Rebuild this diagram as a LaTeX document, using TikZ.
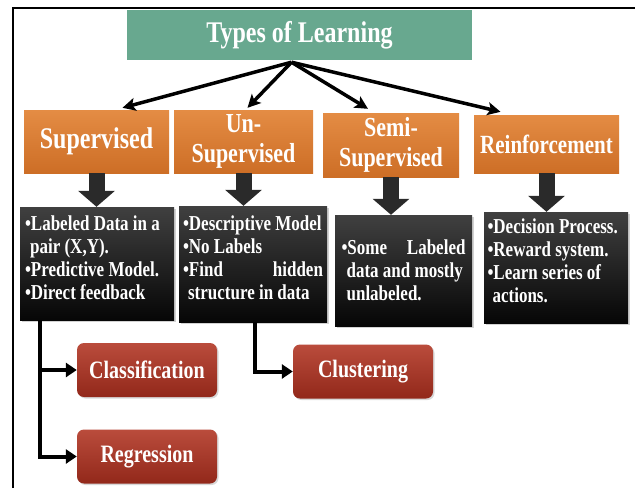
\documentclass[tikz,border=0pt]{standalone}
\usepackage{fontspec}
\setmainfont{Liberation Serif}
\usepackage{graphicx}
\usetikzlibrary{arrows.meta,shadows}

\definecolor{learngreen}{RGB}{104,168,143}
\definecolor{typetop}{RGB}{228,140,68}
\definecolor{typebot}{RGB}{205,110,38}
\definecolor{notetop}{RGB}{64,64,64}
\definecolor{notebot}{RGB}{6,6,6}
\definecolor{tasktop}{RGB}{186,76,60}
\definecolor{taskbot}{RGB}{146,40,26}
\definecolor{pointer}{RGB}{42,42,42}

% taller, narrower lettering in every box
\newcommand{\tall}[1]{\scalebox{1}[1.25]{#1}}
% optional lift, text width, lines
\newcommand{\notes}[3][0pt]{\raisebox{#1}[\height][\depth]{\tall{\parbox{#2}{\fontsize{17}{18.4}\selectfont\raggedright #3}}}}
\newcommand{\cont}{\hspace*{0.3em}}

\begin{document}
\begin{tikzpicture}[x=1pt,y=-1pt,
    titlebox/.style={fill=learngreen, text=white, inner sep=0pt,
      minimum width=345pt, minimum height=50pt,
      font=\fontsize{24}{28}\selectfont\bfseries},
    typebox/.style={top color=typetop, bottom color=typebot, text=white,
      inner sep=0pt, minimum height=63pt,
      font=\fontsize{22}{24}\selectfont\bfseries},
    notebox/.style={top color=notetop, bottom color=notebot, text=white,
      inner sep=0pt, font=\bfseries,
      drop shadow={shadow xshift=2pt, shadow yshift=-2pt, opacity=.35}},
    taskbox/.style={top color=tasktop, bottom color=taskbot, text=white,
      rounded corners=7pt, inner sep=0pt,
      minimum width=140pt, minimum height=54pt,
      font=\fontsize{20}{24}\selectfont\bfseries,
      drop shadow={shadow xshift=1.5pt, shadow yshift=-1.5pt, opacity=.3}},
    hubarrow/.style={line width=3.5pt, -{Stealth[length=13pt,width=13pt,inset=3pt]}},
    blockarrow/.style={draw=pointer, line width=16pt, -{Triangle[length=16pt,width=36pt]}},
    linkarrow/.style={line width=4pt, -{Triangle[length=11pt,width=14pt]}}]

  \fill[white] (0,0) rectangle (635,488);
  \useasboundingbox (0,0) rectangle (635,488);
  % page frame
  \draw[line width=1.5pt] (13,488) -- (13,8) -- (635,8);

  \node[titlebox] (types) at (299.5,35) {\tall{Types of Learning}};

  % kinds of learning
  \node[typebox, minimum width=145pt] (sup) at (96.5,141.5)
    {\fontsize{24}{26}\selectfont\tall{Supervised}};
  \node[typebox, minimum width=139pt] (unsup) at (243.5,141.5)
    {\tall{\begin{tabular}{@{}c@{}}Un-\\Supervised\end{tabular}}};
  \node[typebox, minimum width=136pt, minimum height=64pt] (semi) at (391,145)
    {\tall{\begin{tabular}{@{}c@{}}Semi-\\Supervised\end{tabular}}};
  \node[typebox, minimum width=145pt, minimum height=58pt] (reinf) at (546.5,144)
    {\fontsize{21}{24}\selectfont\tall{Reinforcement}};

  % notes under each kind
  \node[notebox, minimum width=154pt, minimum height=113pt] (supnotes) at (97,263.5)
    {\notes[6pt]{144pt}{•Labeled Data in a\\ \cont pair (X,Y).\\ •Predictive Model.\\ •Direct feedback}};
  \node[notebox, minimum width=148pt, minimum height=116pt] (unsupnotes) at (253,264)
    {\notes[6pt]{140pt}{•Descriptive Model\\ •No Labels\\ \makebox[140pt][s]{•Find hidden}\\ \cont structure in data}};
  \node[notebox, minimum width=137pt, minimum height=111pt] (seminotes) at (403.5,270.5)
    {\notes{124pt}{\makebox[124pt][s]{•Some Labeled}\\ \cont data and mostly\\ \cont unlabeled.}};
  \node[notebox, minimum width=144pt, minimum height=111pt] (reinfnotes) at (556,267.5)
    {\notes[7pt]{137pt}{•Decision Process.\\ •Reward system.\\ •Learn series of\\ \cont actions.}};

  % tasks
  \node[taskbox] (class) at (147,370) {\tall{Classification}};
  \node[taskbox] (regr) at (147,456.5) {\tall{Regression}};
  \node[taskbox] (clust) at (363,371.5) {\tall{Clustering}};

  % arrows from the title
  \coordinate (hub) at ([xshift=-8pt,yshift=-2pt]types.south);
  \draw[hubarrow] (hub) -- ([xshift=26pt,yshift=2pt]sup.north);
  \draw[hubarrow] (hub) -- ([xshift=4pt,yshift=2pt]unsup.north);
  \draw[hubarrow] (hub) -- ([xshift=-23pt,yshift=4pt]semi.north);
  \draw[hubarrow] (hub) -- ([xshift=-46pt,yshift=3pt]reinf.north);

  \foreach \kind/\note in {sup/supnotes, unsup/unsupnotes, semi/seminotes, reinf/reinfnotes}
    \draw[blockarrow] (\kind.south) -- (\kind.south |- \note.north);

  % links to the tasks
  \coordinate (split) at ([xshift=-57pt]supnotes.south);
  \draw[linkarrow] (split) |- (regr.west);
  \draw[linkarrow] (split |- class.west) -- (class.west);
  \draw[linkarrow] ([xshift=2pt]unsupnotes.south) |- (clust.west);
\end{tikzpicture}
\end{document}
